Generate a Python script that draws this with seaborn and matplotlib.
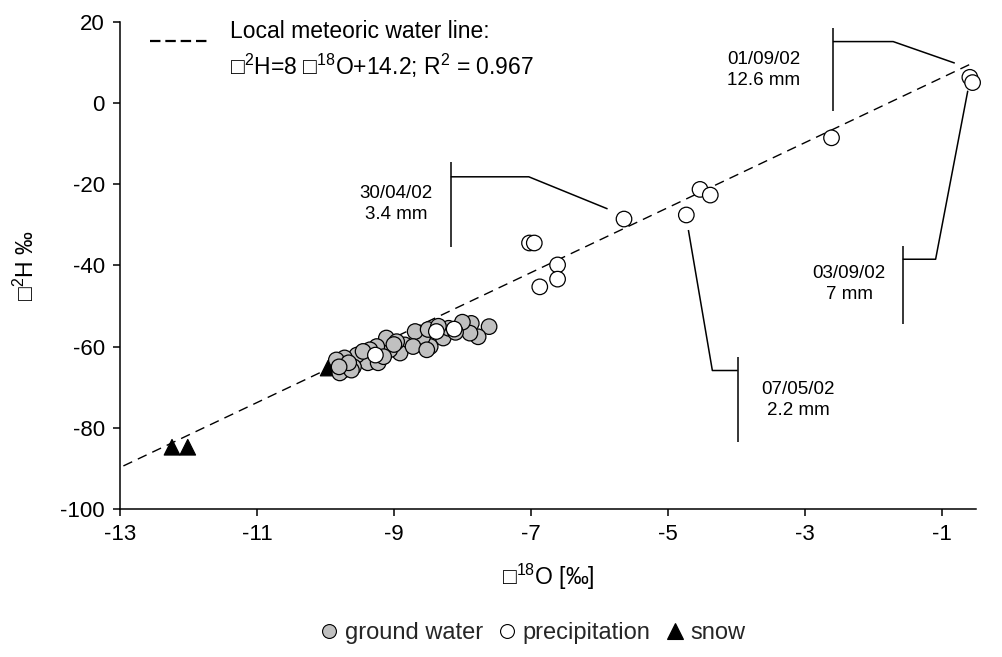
import numpy as np
import pandas as pd
import matplotlib
matplotlib.use("Agg")
import matplotlib.pyplot as plt
import seaborn as sns
from matplotlib.lines import Line2D

# Isotope data (per mil)
gw_d18O = [-7.61, -7.77, -7.87, -7.89, -8.28, -8.47, -8.58, -8.69, -8.84, -8.91,
           -9.06, -9.11, -9.25, -9.35, -9.38, -9.54, -9.59, -9.72, -9.74, -9.79,
           -9.62, -9.84, -9.23, -8.96, -8.72, -8.52, -8.00, -8.20, -8.50, -9.45,
           -9.66, -9.80, -8.35, -8.10, -9.00, -9.15]
gw_d2H = [-55.1, -57.6, -54.3, -56.7, -57.9, -60.0, -57.6, -56.3, -59.6, -61.6,
          -60.8, -57.9, -60.0, -60.8, -64.0, -62.1, -65.0, -62.8, -65.8, -66.5,
          -65.8, -63.3, -64.0, -58.8, -60.0, -60.8, -54.0, -55.5, -55.8, -61.2,
          -64.0, -65.0, -55.0, -56.5, -59.5, -62.5]

precip_d18O = [-8.12, -8.38, -9.27, -7.02, -6.95, -6.61, -6.61, -6.87, -5.64,
               -4.73, -4.53, -4.38, -2.61, -0.59, -0.55]
precip_d2H = [-55.7, -56.3, -62.1, -34.5, -34.5, -39.9, -43.4, -45.3, -28.6,
              -27.6, -21.3, -22.7, -8.6, 6.3, 5.0]

snow_d18O = [-12.24, -12.01, -9.96]
snow_d2H = [-84.8, -84.8, -65.3]

# Local meteoric water line: d2H = 8 d18O + 14.2
lmwl_slope = 8.0
lmwl_intercept = 14.2
lmwl_x = np.array([-12.95, -0.55])

series_names = ["ground water", "precipitation", "snow"]

# Event labels with their leader brackets (data coordinates)
events = [
    {"text": "30/04/02\n3.4 mm", "text_xy": (-8.97, -25.0),
     "bar": ((-8.17, -8.17), (-14.5, -35.4)),
     "leader": ((-8.17, -7.03, -5.88), (-18.2, -18.2, -26.1))},
    {"text": "01/09/02\n12.6 mm", "text_xy": (-3.60, 8.2),
     "bar": ((-2.59, -2.59), (18.4, -2.1)),
     "leader": ((-2.59, -1.71, -0.81), (15.1, 15.1, 9.8))},
    {"text": "03/09/02\n7 mm", "text_xy": (-2.35, -44.5),
     "bar": ((-1.57, -1.57), (-35.2, -54.4)),
     "leader": ((-1.57, -1.09, -0.62), (-38.5, -38.5, 3.0))},
    {"text": "07/05/02\n2.2 mm", "text_xy": (-3.10, -73.2),
     "bar": ((-3.98, -3.98), (-62.6, -83.4)),
     "leader": ((-3.98, -4.35, -4.70), (-65.9, -65.9, -31.3))},
]

sns.set_theme(style="white")
plt.rcParams["font.family"] = ["Liberation Sans", "DejaVu Sans"]
plt.rcParams["mathtext.fontset"] = "custom"
plt.rcParams["mathtext.rm"] = "Liberation Sans"
plt.rcParams["mathtext.it"] = "Liberation Sans:italic"
plt.rcParams["mathtext.bf"] = "Liberation Sans:bold"
plt.rcParams["mathtext.default"] = "rm"
plt.rcParams["axes.unicode_minus"] = False

fig = plt.figure(figsize=(10.03, 6.57), dpi=100)
ax = fig.add_axes([0.1196, 0.2253, 0.8535, 0.7417])

# Samples, drawn snow first, then ground water, then precipitation on top
df = pd.concat([
    pd.DataFrame({"d18O": snow_d18O, "d2H": snow_d2H, "type": "snow"}),
    pd.DataFrame({"d18O": gw_d18O, "d2H": gw_d2H, "type": "ground water"}),
    pd.DataFrame({"d18O": precip_d18O, "d2H": precip_d2H, "type": "precipitation"}),
], ignore_index=True)

palette = {"ground water": "#C0C0C0", "precipitation": "white", "snow": "black"}
markers = {"ground water": "o", "precipitation": "o", "snow": "^"}

# Meteoric water line
lmwl_y = lmwl_slope * lmwl_x + lmwl_intercept
sns.lineplot(x=lmwl_x, y=lmwl_y, ax=ax, color="black", linewidth=1.0,
             linestyle=(0, (7, 4.5)), sort=False, estimator=None)

sns.scatterplot(data=df, x="d18O", y="d2H", hue="type", style="type",
                palette=palette, markers=markers, s=125, edgecolor="black",
                linewidth=0.9, legend=False, ax=ax, clip_on=False, zorder=3)

# Event brackets and labels
for ev in events:
    ax.plot(*ev["bar"], color="black", lw=1.1, solid_capstyle="butt", clip_on=False)
    ax.plot(*ev["leader"], color="black", lw=1.1, solid_capstyle="butt", clip_on=False)
    ax.text(*ev["text_xy"], ev["text"], ha="center", va="center",
            multialignment="center", fontsize=13.5, linespacing=1.3, color="black")

ax.set_xlim(-13, -0.5)
ax.set_ylim(-100, 20)
ax.set_xticks(np.arange(-13, 0, 2))
ax.set_yticks(np.arange(-100, 21, 20))
sns.despine(ax=ax)
for side in ("left", "bottom"):
    ax.spines[side].set_color("black")
    ax.spines[side].set_linewidth(1.1)
ax.tick_params(axis="both", which="major", bottom=True, left=True, direction="out",
               length=5, width=1.1, pad=6, labelsize=16, colors="black")
ax.grid(False)

ax.set_xlabel("\u25a1$^{18}$O [\u2030]", fontsize=16.5, color="black", labelpad=12)
ax.set_ylabel("\u25a1$^{2}$H \u2030", fontsize=16.5, color="black", labelpad=15)

# Meteoric water line key
ax.plot([0.035, 0.1016], [0.9607, 0.9607], transform=ax.transAxes, color="black",
        lw=1.6, dashes=(4.7, 2.2), clip_on=False)
ax.text(0.1285, 0.979, "Local meteoric water line:", transform=ax.transAxes,
        fontsize=16.5, ha="left", va="center", color="black")
ax.text(0.1285, 0.909, "\u25a1$^{2}$H=8 \u25a1$^{18}$O+14.2; R$^{2}$ = 0.967",
        transform=ax.transAxes, fontsize=16.5, ha="left", va="center", color="black")

# Sample-type legend below the axis
handles = [
    Line2D([], [], ls="none", marker="o", markersize=10, markerfacecolor="#C0C0C0",
           markeredgecolor="black", markeredgewidth=0.8),
    Line2D([], [], ls="none", marker="o", markersize=10, markerfacecolor="white",
           markeredgecolor="black", markeredgewidth=0.8),
    Line2D([], [], ls="none", marker="^", markersize=11, markerfacecolor="black",
           markeredgecolor="black", markeredgewidth=0.8),
]
fig.legend(handles, series_names, loc="center", bbox_to_anchor=(0.53, 0.036),
           ncol=3, frameon=False, handletextpad=0.15, columnspacing=0.55,
           handlelength=1.0, fontsize=17)

fig.savefig("out.png", dpi=100)
